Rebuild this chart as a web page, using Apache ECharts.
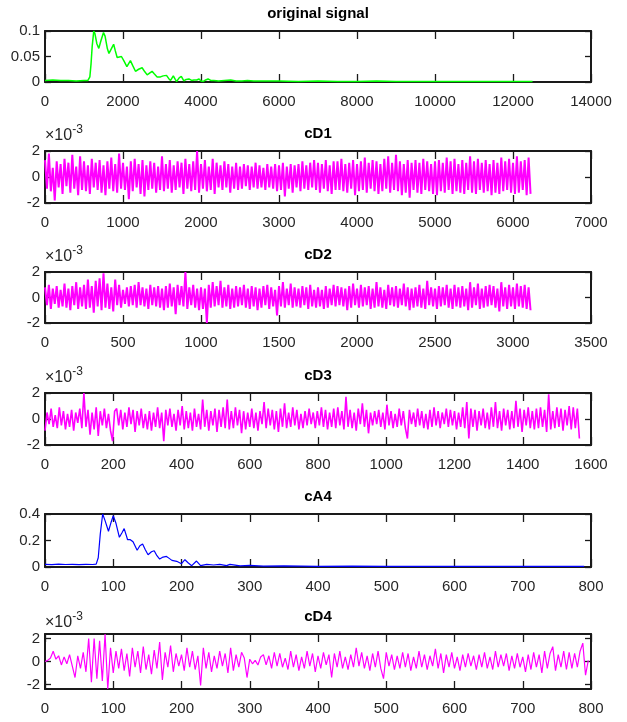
<!DOCTYPE html>
<html><head><meta charset="utf-8">
<script src="https://cdn.jsdelivr.net/npm/echarts@6/dist/echarts.min.js"></script>
<style>html,body{margin:0;padding:0;background:#fff}#c{width:627px;height:722px}</style>
</head><body><div id="c"></div>
<script>
// ---------- DATA ----------
// original signal (sample index, amplitude)
const origX = [0,200,400,600,800,1000,1100,1150,1180,1210,1250,1280,1330,1380,1430,1500,1540,1600,1640,1700,1760,1800,1850,1900,1960,2020,2100,2190,2250,2320,2400,2490,2560,2620,2690,2745,2800,2875,2960,3030,3115,3170,3220,3290,3340,3375,3440,3495,3560,3620,3690,3760,3820,3890,3950,4000,4060,4120,4180,4250,4330,4450,4600,4760,4900,5050,5190,5350,5600,6000,6500,7000,7500,8000,8500,9000,9500,10000,10500,11000,11500,12000,12500];
const origY = [0.003,0.004,0.003,0.003,0.002,0.003,0.003,0.01,0.035,0.07,0.1,0.095,0.075,0.066,0.08,0.097,0.09,0.065,0.056,0.065,0.074,0.062,0.048,0.05,0.05,0.042,0.03,0.042,0.032,0.021,0.025,0.028,0.02,0.014,0.018,0.021,0.016,0.01,0.01,0.012,0.013,0.007,0.003,0.012,0.005,0.001,0.008,0.011,0.002,0.005,0.006,0.003,0.004,0.004,0.006,0.002,0.001,0.004,0.006,0.003,0.003,0.002,0.003,0.004,0.002,0.002,0.003,0.002,0.002,0.002,0.001,0.002,0.001,0.001,0.002,0.001,0.001,0.001,0.001,0.001,0.001,0.001,0.001];

// cD1 detail coefficients (x1e-3), read every 25th sample
const cD1Step = 25;
const cD1 = [
1.3,-0.9,1.8,-1.1,0.7,-1.8,1.2,-0.8,1.0,-1.3,
1.4,-0.7,1.1,-1.2,1.7,-0.9,0.8,-1.4,1.6,-1.0,
1.2,-1.1,0.9,-1.3,1.4,-0.8,1.1,-1.0,1.3,-1.2,
0.9,-1.4,1.2,-0.9,1.5,-1.1,1.0,-1.2,1.8,-0.9,
1.1,-1.0,0.8,-1.7,1.2,-1.1,1.4,-0.8,1.0,-1.3,
1.3,-1.5,0.9,-1.0,1.2,-0.9,1.1,-1.2,0.8,-1.0,
1.6,-1.1,1.0,-0.9,1.3,-1.2,0.9,-1.0,1.2,-0.8,
1.1,-1.3,1.4,-0.9,1.0,-1.1,1.2,-1.0,2.0,-1.2,
1.0,-0.9,1.3,-1.1,0.8,-1.0,1.4,-1.3,1.1,-0.8,
0.9,-1.0,1.2,-0.8,1.0,-1.2,0.8,-0.9,1.1,-1.0,
0.8,-0.9,1.0,-0.7,0.9,-1.0,0.8,-0.8,1.1,-0.9,
0.9,-0.8,0.7,-1.0,1.0,-0.8,0.8,-0.9,1.0,-1.1,
0.9,-1.0,1.1,-1.5,0.8,-0.9,1.0,-1.2,0.9,-0.8,
1.0,-1.1,1.2,-0.9,0.9,-1.0,1.1,-0.8,1.3,-1.0,
1.1,-1.2,1.0,-0.9,1.3,-1.1,0.9,-1.3,1.2,-1.0,
1.2,-1.0,1.4,-1.1,1.0,-1.2,1.1,-0.9,1.3,-1.4,
1.0,-1.1,1.2,-1.0,1.5,-1.2,1.1,-0.9,1.3,-1.1,
1.2,-1.3,1.0,-1.1,1.4,-0.9,1.6,-1.2,1.1,-1.0,
1.7,-1.1,1.2,-1.4,1.0,-1.2,1.3,-1.6,1.1,-1.0,
1.3,-1.2,1.1,-1.3,1.4,-1.0,1.2,-1.1,1.0,-1.3,
1.2,-1.4,1.3,-1.1,1.1,-1.2,1.5,-1.0,1.2,-1.3,
1.4,-1.1,1.0,-1.2,1.3,-1.3,1.1,-1.0,1.6,-1.2,
1.2,-1.3,1.4,-1.0,1.1,-1.2,1.3,-1.1,1.0,-1.4,
1.3,-1.2,1.1,-1.3,1.5,-1.1,1.2,-1.0,1.4,-1.2,
1.1,-1.3,1.6,-1.2,1.2,-1.0,1.3,-1.4,1.5,-1.3];

// cD2 (x1e-3), every 12.5 samples
const cD2Step = 12.5;
const cD2 = [
0.8,-0.6,1.0,-0.9,0.7,-0.5,0.9,-0.8,0.6,-0.7,
1.1,-0.8,0.7,-1.0,0.9,-0.6,1.2,-0.9,0.8,-0.7,
1.0,-0.9,1.4,-0.8,0.9,-1.2,1.3,-0.7,1.5,-1.0,
1.9,-0.8,1.1,-0.9,0.8,-1.1,1.4,-0.6,1.0,-0.8,
0.6,-0.5,0.8,-0.7,0.9,-0.6,1.0,-0.8,1.2,-0.6,
0.8,-0.7,0.7,-0.9,1.0,-0.6,0.8,-0.7,0.9,-0.8,
0.7,-1.0,0.9,-0.8,1.1,-0.7,0.8,-1.3,1.0,-0.6,
0.9,-0.7,2.0,-0.9,0.8,-0.6,1.0,-0.8,0.7,-1.0,
0.8,-0.9,0.7,-2.0,1.0,-0.8,1.2,-0.7,0.9,-0.6,
1.3,-0.8,0.8,-0.7,1.0,-0.9,0.7,-0.8,0.9,-0.7,
0.8,-0.6,1.0,-0.8,0.7,-0.9,0.9,-0.7,0.8,-1.0,
0.7,-0.8,0.9,-0.6,1.0,-0.9,0.8,-0.7,0.6,-1.4,
0.9,-0.7,1.2,-0.8,0.7,-0.6,1.1,-0.8,0.8,-0.7,
0.7,-0.8,0.9,-0.6,0.8,-0.9,1.0,-0.7,0.6,-0.8,
0.8,-0.7,0.6,-0.9,0.9,-0.8,0.7,-0.6,1.0,-0.7,
0.9,-0.6,0.8,-0.7,0.7,-1.0,0.9,-0.8,1.1,-0.6,
0.7,-0.8,1.0,-0.7,0.8,-0.6,0.9,-0.9,0.7,-0.8,
1.2,-0.7,0.8,-0.8,0.6,-0.9,1.0,-0.6,0.8,-0.7,
0.9,-0.8,0.7,-0.6,1.1,-0.7,0.8,-1.0,0.7,-0.8,
0.8,-0.7,1.0,-0.8,0.7,-0.9,1.3,-0.6,0.8,-0.7,
0.7,-0.9,0.9,-0.7,0.8,-0.6,1.0,-0.8,0.7,-0.9,
1.0,-0.7,0.8,-0.8,0.9,-0.7,0.7,-1.0,1.2,-0.8,
0.8,-0.6,1.1,-0.9,0.7,-0.8,0.9,-0.7,1.0,-0.6,
0.9,-0.8,0.7,-1.1,1.2,-0.7,0.8,-0.9,1.0,-0.7,
0.8,-0.9,1.1,-0.7,0.9,-0.8,1.0,-0.9,0.8,-1.0];

// cD3 (x1e-3), every 6 samples
const cD3Step = 6;
const cD3 = [
-0.9,0.5,-0.4,0.8,-0.6,0.3,-0.7,0.9,-0.5,0.6,
-0.8,0.4,-0.6,0.7,-0.9,0.5,-0.3,0.8,-0.7,2.0,
-0.6,0.7,-1.2,0.5,-0.8,0.9,-1.3,0.6,-0.5,0.8,
-0.7,0.4,-0.9,-1.7,0.6,0.8,-0.5,0.7,-0.8,0.5,
-0.6,0.9,-0.4,0.7,-1.0,0.6,-0.5,0.8,-0.7,0.4,
-0.8,0.6,-0.9,0.5,-0.6,0.9,-0.7,0.5,-1.7,0.7,
-0.5,0.8,-0.6,0.4,-0.9,0.7,-0.5,1.0,-0.8,0.6,
-0.7,0.5,-0.9,0.8,-0.6,0.4,-0.8,1.5,-0.6,0.7,
-0.9,0.6,-0.5,0.8,-1.0,0.7,-0.6,0.9,-0.7,1.5,
-0.8,0.6,-0.7,0.9,-0.5,0.7,-1.1,0.6,-0.8,0.5,
-0.6,0.8,-0.7,0.5,-0.9,0.6,-0.4,1.3,-0.7,0.8,
-0.5,0.7,-0.8,0.6,-1.0,0.8,-0.6,1.2,-0.7,0.5,
-0.6,0.9,-0.5,0.7,-0.8,0.4,-0.7,0.6,-0.5,0.8,
-0.4,0.5,-0.7,0.6,-0.5,0.9,-0.6,0.7,-0.8,0.5,
-0.6,0.8,-0.7,0.9,-0.5,0.6,-0.8,1.7,-0.6,0.7,
-0.7,0.5,-0.9,0.8,-0.4,1.2,-0.6,0.7,-1.1,0.5,
-0.5,0.6,-0.4,0.7,-0.6,0.5,-0.8,1.1,-0.5,0.6,
-0.7,0.4,-0.6,0.8,-0.5,0.6,-0.7,-1.5,0.7,-0.4,
0.5,-0.6,0.8,-0.5,0.6,-0.7,0.4,-0.8,0.7,-0.6,
0.9,-0.5,0.6,-0.7,0.5,-0.4,0.8,-0.6,0.7,-0.5,
0.6,-0.8,0.5,-0.6,0.9,-0.7,1.3,-1.5,0.8,-0.6,
0.7,-0.9,0.6,-0.5,0.8,-0.7,0.5,-0.8,0.9,-0.6,
1.3,-0.7,0.6,-0.9,0.8,-0.5,0.7,-0.8,0.6,-0.7,
1.4,-0.6,0.8,-1.0,0.7,-0.5,0.9,-0.7,0.6,-0.8,
0.8,-0.7,0.9,-0.6,0.7,-1.0,1.9,-0.8,0.6,-0.7,
0.9,-0.6,0.8,-0.9,0.7,-0.5,1.0,-0.8,0.9,-0.7,
0.8,-1.5];

// cA4 approximation (sample index, amplitude)
const cA4X = [0,10,20,30,40,50,60,70,75,78,81,84.5,88,93,97,100,104,109,113,116,119,121,125,129,135,139,143,147,151,156,160,164,168,173,178,182,186,193,200,205,210,215,222,228,237,247,256,266,271,286,300,320,350,400,450,500,550,600,650,700,750,790];
const cA4Y = [0.02,0.018,0.022,0.019,0.02,0.018,0.02,0.019,0.022,0.07,0.25,0.4,0.35,0.27,0.34,0.387,0.33,0.224,0.26,0.29,0.24,0.206,0.206,0.19,0.126,0.16,0.174,0.13,0.093,0.115,0.123,0.085,0.06,0.075,0.08,0.065,0.05,0.043,0.025,0.055,0.03,0.01,0.045,0.01,0.02,0.015,0.02,0.01,0.02,0.008,0.012,0.006,0.008,0.005,0.006,0.004,0.005,0.004,0.005,0.004,0.004,0.004];

// cD4 (x1e-3), every 4 samples
const cD4Step = 4;
const cD4 = [
0.0,0.1,0.3,0.9,0.2,0.5,-0.3,0.4,-0.2,0.6,
-0.4,-1.4,0.5,-0.6,0.8,-0.9,2.0,-1.8,2.0,-1.5,
1.8,-1.7,2.4,-2.4,1.2,-1.0,0.9,-0.6,1.1,-0.8,
0.7,-1.3,1.2,-0.5,0.9,-1.0,1.3,-0.7,0.6,-1.1,
1.0,-0.6,1.7,-1.6,0.8,-0.5,1.4,-0.9,0.7,-0.4,
0.6,-0.8,1.2,-0.5,0.9,-0.7,0.5,-2.1,1.2,-0.6,
0.8,-0.9,0.5,-0.6,0.9,-0.4,0.7,-1.0,1.2,-0.8,
0.6,-0.5,0.8,0.3,-1.4,0.2,-0.2,0.1,-0.3,0.4,
0.6,-0.3,0.5,-0.6,0.8,-0.4,0.7,-0.5,0.3,-0.7,
0.9,-0.5,0.6,-0.8,0.4,-0.6,0.9,-0.4,0.7,-0.9,
0.5,-0.6,0.8,-0.3,0.6,-1.4,0.7,-0.5,0.9,-0.6,
0.4,-0.7,0.6,-0.5,1.2,-0.4,0.8,-0.6,0.5,-0.8,
0.7,-0.5,0.9,-0.6,-1.5,0.8,-0.4,0.6,-0.7,0.5,
-0.6,0.8,-0.5,0.7,-0.8,0.4,-0.6,0.9,-0.5,0.6,
-0.7,0.5,-0.4,1.1,-0.6,0.7,-1.0,0.6,-0.5,0.8,
-0.6,0.4,-0.8,0.6,-0.5,0.7,-0.4,0.5,-0.7,0.6,
-0.5,0.8,-0.6,0.4,-0.7,0.9,-0.5,0.6,-0.4,0.7,
-0.8,0.5,-0.6,0.7,-0.5,0.4,-0.9,0.6,-0.7,0.8,
-0.5,0.6,-1.0,0.9,-0.6,0.7,1.3,-0.8,0.6,-0.5,
0.9,-0.7,0.8,-0.6,0.7,-0.5,0.9,1.6,-1.2,0.1];

// axis ranges and tick labels
const titles = ['original signal','cD1','cD2','cD3','cA4','cD4'];
const xMaxes = [14000,7000,3500,1600,800,800];
const xSteps = [2000,1000,500,200,100,100];
const yRanges = [[0,0.1],[-2,2],[-2,2],[-2,2],[0,0.4],[-2.4,2.4]];
const yTickValues = [[0,0.05,0.1],[-2,0,2],[-2,0,2],[-2,0,2],[0,0.2,0.4],[-2,0,2]];
const hasExponent = [false,true,true,true,false,true];

// ---------- STYLE / LAYOUT ----------
const FONT = '"Liberation Sans",Arial,Helvetica,sans-serif';
const gridLeft = 45, gridWidth = 546;
const gridTops = [31,151,272,393,514,634];
const gridHeights = [51,52,51,52,53,55];
const AX = '#1a1a1a', LBL = '#262626';
const colors = ['#00ff00','#ff00ff','#ff00ff','#ff00ff','#0000ff','#ff00ff'];
const widths = [1.5,2,2,1.6,1.2,1.2];

function pairs(xs, ys){ return xs.map((x,i)=>[x, ys[i]]); }
function stepped(vals, step){ return vals.map((v,i)=>[i*step, v]); }
const plain = v => String(v);

const seriesData = [
  pairs(origX, origY),
  stepped(cD1, cD1Step),
  stepped(cD2, cD2Step),
  stepped(cD3, cD3Step),
  pairs(cA4X, cA4Y),
  stepped(cD4, cD4Step)
];

const grid=[], xAxis=[], yAxis=[], series=[], title=[];
for (let i=0;i<6;i++){
  grid.push({left:gridLeft, width:gridWidth, top:gridTops[i], height:gridHeights[i], containLabel:false});
  title.push({text:titles[i], left:gridLeft+gridWidth/2, top:gridTops[i]-25, textAlign:'center', padding:0,
    textStyle:{fontSize:15, fontWeight:'bold', fontFamily:FONT, color:'#000'}});
  const xBase = {type:'value', gridIndex:i, min:0, max:xMaxes[i], interval:xSteps[i], splitLine:{show:false},
    axisLine:{show:true, onZero:false, lineStyle:{color:AX, width:2}},
    axisTick:{show:true, inside:true, length:8, lineStyle:{color:AX, width:1.3}}};
  xAxis.push(Object.assign({}, xBase, {position:'bottom',
    axisLabel:{show:true, fontSize:15, fontFamily:FONT, color:LBL, margin:12, formatter:plain}}));
  xAxis.push(Object.assign({}, xBase, {position:'top', axisLabel:{show:false}}));
  const yBase = {type:'value', gridIndex:i, min:yRanges[i][0], max:yRanges[i][1], splitLine:{show:false},
    axisLine:{show:true, onZero:false, lineStyle:{color:AX, width:2}},
    axisTick:{show:true, inside:true, length:6, customValues:yTickValues[i], lineStyle:{color:AX, width:1.3}}};
  const yLeft = Object.assign({}, yBase, {position:'left',
    axisLabel:{show:true, fontSize:15, fontFamily:FONT, color:LBL, margin:5, customValues:yTickValues[i], formatter:plain}});
  if (hasExponent[i]){
    yLeft.name = '{a|×10}{b|-3}';
    yLeft.nameLocation = 'end';
    yLeft.nameGap = 3;
    yLeft.nameTextStyle = {align:'left', verticalAlign:'bottom', color:LBL, fontFamily:FONT,
      rich:{a:{fontSize:16, fontFamily:FONT, color:LBL, lineHeight:20, verticalAlign:'bottom'},
            b:{fontSize:12, fontFamily:FONT, color:LBL, lineHeight:12, verticalAlign:'top'}}};
  }
  yAxis.push(yLeft);
  yAxis.push(Object.assign({}, yBase, {position:'right', axisLabel:{show:false}}));
  series.push({type:'line', xAxisIndex:2*i, yAxisIndex:2*i, data:seriesData[i], showSymbol:false,
    symbol:'none', clip:true, animation:false, lineStyle:{color:colors[i], width:widths[i]}, itemStyle:{color:colors[i]}});
}

const chart = echarts.init(document.getElementById('c'), null, {renderer:'canvas'});
chart.setOption({backgroundColor:'#fff', animation:false, title, grid, xAxis, yAxis, series});
</script></body></html>
